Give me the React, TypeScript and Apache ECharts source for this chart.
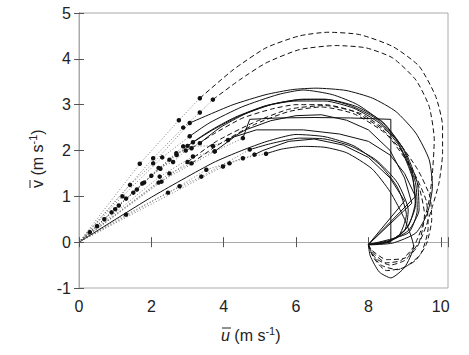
import React, { useEffect, useRef } from 'react';
import * as echarts from 'echarts';

type Pt = [number, number];

const origin: Pt = [0, 0];
const xTickValues = [0, 2, 4, 6, 8, 10];
const yTickValues = [-1, 0, 1, 2, 3, 4, 5];

// profile 1 (dashed, outer loop)
const p1Dots: Pt[] = [[1.68, 1.71], [2.76, 2.66], [3.34, 3.14]];
const p1Tail: Pt[] = [[3.34, 3.14], [4.26, 3.76], [5.17, 4.24], [6.09, 4.5], [6.88, 4.58], [7.75, 4.53], [8.67, 4.27], [9.4, 3.84], [9.86, 3.18], [10.05, 2.53], [10.05, 1.94], [9.95, 1.29], [9.77, 0.78], [9.59, 0.34], [9.35, -0.1], [9.0, -0.4], [8.6, -0.5], [8.2, -0.35], [8.0, -0.08]];
// profile 2 (dashed, inner loop)
const p2Dots: Pt[] = [[2.05, 1.83], [2.88, 2.5], [3.34, 2.83], [3.7, 3.11]];
const p2Tail: Pt[] = [[3.7, 3.11], [4.44, 3.54], [5.17, 3.91], [6.09, 4.2], [7.1, 4.29], [7.93, 4.24], [8.67, 4.02], [9.31, 3.54], [9.68, 2.96], [9.82, 2.23], [9.77, 1.51], [9.68, 0.92], [9.49, 0.34], [9.25, -0.1], [8.9, -0.4], [8.5, -0.45], [8.15, -0.25], [8.0, -0.08]];
// profile 3
const p3Dots: Pt[] = [[1.41, 1.25], [2.05, 1.72], [3.06, 2.6]];
const p3Tail: Pt[] = [[3.06, 2.6], [3.5, 2.75], [4.26, 3.0], [5.17, 3.22], [5.91, 3.33], [6.55, 3.36], [7.38, 3.31], [8.12, 3.14], [8.76, 2.85], [9.31, 2.38], [9.68, 1.8], [9.77, 1.22], [9.63, 0.63], [9.31, 0.2], [8.67, -0.02], [8.02, -0.06]];
// profile 4
const p4Dots: Pt[] = [[1.2, 1.0], [2.3, 1.85], [3.06, 2.31]];
const p4Tail: Pt[] = [[3.06, 2.31], [3.6, 2.6], [4.5, 2.95], [5.5, 3.22], [6.2, 3.32], [7.0, 3.22], [7.7, 3.0], [8.4, 2.6], [9.0, 2.0], [9.35, 1.3], [9.4, 0.7], [9.1, 0.25], [8.5, 0.0], [8.0, -0.05]];
// profiles 5-7 (dense band)
const p5Dots: Pt[] = [[0.3, 0.22], [0.7, 0.5], [1.1, 0.8], [1.5, 1.08], [2.0, 1.45], [2.5, 1.8], [3.0, 2.1]];
const p5Tail: Pt[] = [[3.0, 2.1], [3.6, 2.42], [4.3, 2.72], [5.17, 2.98], [6.0, 3.1], [6.8, 3.12], [7.5, 2.98], [8.2, 2.7], [8.8, 2.2], [9.2, 1.5], [9.3, 0.9], [9.1, 0.35], [8.6, 0.02], [8.0, -0.05]];
const p6Dots: Pt[] = [[0.5, 0.35], [0.9, 0.65], [1.3, 0.95], [1.75, 1.28], [2.25, 1.6], [2.7, 1.9], [3.15, 2.18]];
const p6Tail: Pt[] = [[3.15, 2.18], [3.7, 2.45], [4.4, 2.74], [5.2, 2.98], [6.0, 3.08], [6.8, 3.08], [7.6, 2.92], [8.3, 2.6], [8.85, 2.1], [9.22, 1.4], [9.3, 0.8], [9.05, 0.3], [8.55, 0.0], [8.0, -0.05]];
const p7Dots: Pt[] = [[1.0, 0.72], [1.6, 1.15], [2.2, 1.62], [2.6, 1.75], [2.95, 2.0], [3.34, 2.16]];
const p7Tail: Pt[] = [[3.34, 2.16], [3.9, 2.5], [4.6, 2.8], [5.4, 3.02], [6.2, 3.12], [7.0, 3.1], [7.7, 2.95], [8.4, 2.62], [8.95, 2.05], [9.3, 1.3], [9.35, 0.7], [9.1, 0.2], [8.0, -0.05]];
// profile 8 (dashed)
const p8Dots: Pt[] = [[1.8, 1.3], [2.69, 1.94], [3.11, 2.05]];
const p8Tail: Pt[] = [[3.11, 2.05], [3.7, 2.35], [4.5, 2.7], [5.3, 2.9], [6.0, 3.0], [6.8, 3.0], [7.6, 2.85], [8.4, 2.45], [9.0, 1.9], [9.4, 1.2], [9.55, 0.6], [9.4, 0.0], [9.0, -0.35], [8.5, -0.38], [8.1, -0.18], [8.0, -0.05]];
// profile 9
const p9Dots: Pt[] = [[2.88, 2.09], [3.7, 2.1], [4.12, 2.23]];
const p9Tail: Pt[] = [[4.12, 2.23], [4.6, 2.45], [5.3, 2.65], [6.0, 2.76], [6.7, 2.78], [7.4, 2.66], [8.0, 2.45], [8.6, 2.0], [9.0, 1.4], [9.2, 0.85], [8.0, -0.05]];
// profile 10
const p10Dots: Pt[] = [[2.2, 1.3], [3.75, 1.98], [4.53, 2.27]];
const p10Tail: Pt[] = [[4.53, 2.27], [4.72, 2.68], [5.5, 2.71], [6.5, 2.72], [7.5, 2.71], [8.62, 2.68], [8.62, 0.0], [8.0, -0.05]];
// profile 11
const p11Dots: Pt[] = [[2.23, 1.43], [3.15, 1.87], [3.75, 1.98]];
const p11Tail: Pt[] = [[3.75, 1.98], [4.3, 2.3], [4.9, 2.45], [6.2, 2.45], [7.2, 2.36], [8.0, 2.2], [8.6, 1.9], [9.0, 1.5], [9.3, 1.0], [8.0, -0.05]];
// profile 12
const p12Dots: Pt[] = [[1.3, 0.6], [2.46, 1.08], [3.38, 1.43], [4.72, 2.02]];
const p12Tail: Pt[] = [[4.72, 2.02], [5.3, 2.15], [6.1, 2.27], [6.8, 2.25], [7.5, 2.1], [8.2, 1.8], [8.8, 1.3], [9.1, 0.7], [9.0, 0.25], [8.5, 0.0], [8.0, -0.05]];
// profile 13
const p13Dots: Pt[] = [[2.78, 1.22], [3.52, 1.58], [4.53, 1.83], [5.17, 1.93]];
const p13Tail: Pt[] = [[5.17, 1.93], [5.6, 2.03], [6.2, 2.09], [6.8, 2.07], [7.4, 1.95], [8.1, 1.6], [8.6, 1.1], [9.0, 0.5], [9.25, -0.1], [9.0, -0.55], [8.62, -0.78], [8.3, -0.65], [8.05, -0.3], [8.0, -0.05]];
// profile 14
const p14Dots: Pt[] = [[3.98, 1.65], [4.16, 1.72], [4.85, 1.91]];
const p14Tail: Pt[] = [[4.85, 1.91], [5.08, 2.0], [5.8, 2.2], [6.5, 2.25], [7.3, 2.12], [8.0, 1.85], [8.6, 1.4], [9.0, 0.9], [8.0, -0.05]];
// profile 15 (solid from the origin)
const p15Dots: Pt[] = [];
const p15Tail: Pt[] = [[0, 0], [2.0, 0.98], [3.7, 1.73], [4.5, 2.0], [5.2, 2.2], [6.0, 2.35], [6.8, 2.3], [7.6, 2.1], [8.3, 1.7], [8.8, 1.2], [9.05, 0.6], [8.8, 0.1], [8.0, -0.05]];
// profile 16 (dashed)
const p16Dots: Pt[] = [[2.5, 1.5], [3.11, 1.72]];
const p16Tail: Pt[] = [[3.11, 1.72], [3.8, 2.1], [4.8, 2.55], [5.8, 2.85], [6.7, 2.95], [7.6, 2.8], [8.5, 2.35], [9.2, 1.6], [9.6, 0.9], [9.65, 0.3], [9.45, -0.25], [9.0, -0.55], [8.5, -0.62], [8.15, -0.35], [8.0, -0.05]];
// profile 17 (dashed)
const p17Dots: Pt[] = [[2.28, 1.32], [3.0, 1.75]];
const p17Tail: Pt[] = [[3.0, 1.75], [3.8, 2.2], [4.8, 2.6], [5.8, 2.9], [6.8, 2.98], [7.8, 2.8], [8.7, 2.3], [9.35, 1.6], [9.7, 1.0], [9.75, 0.5], [9.6, -0.05], [9.3, -0.4], [8.8, -0.6], [8.35, -0.5], [8.05, -0.2], [8.0, -0.05]];

const profiles: { dots: Pt[]; tail: Pt[]; dashed: boolean; smooth: boolean }[] = [
  { dots: p1Dots, tail: p1Tail, dashed: true, smooth: true },
  { dots: p2Dots, tail: p2Tail, dashed: true, smooth: true },
  { dots: p3Dots, tail: p3Tail, dashed: false, smooth: true },
  { dots: p4Dots, tail: p4Tail, dashed: false, smooth: true },
  { dots: p5Dots, tail: p5Tail, dashed: false, smooth: true },
  { dots: p6Dots, tail: p6Tail, dashed: false, smooth: true },
  { dots: p7Dots, tail: p7Tail, dashed: false, smooth: true },
  { dots: p8Dots, tail: p8Tail, dashed: true, smooth: true },
  { dots: p9Dots, tail: p9Tail, dashed: false, smooth: false },
  { dots: p10Dots, tail: p10Tail, dashed: false, smooth: false },
  { dots: p11Dots, tail: p11Tail, dashed: false, smooth: false },
  { dots: p12Dots, tail: p12Tail, dashed: false, smooth: true },
  { dots: p13Dots, tail: p13Tail, dashed: false, smooth: true },
  { dots: p14Dots, tail: p14Tail, dashed: false, smooth: false },
  { dots: p15Dots, tail: p15Tail, dashed: false, smooth: true },
  { dots: p16Dots, tail: p16Tail, dashed: true, smooth: true },
  { dots: p17Dots, tail: p17Tail, dashed: true, smooth: true },
];

const FONT = 'Liberation Sans, Arial, sans-serif';

export default function App() {
  const ref = useRef<HTMLDivElement>(null);
  useEffect(() => {
    if (!ref.current) return;
    const chart = echarts.init(ref.current, undefined, { renderer: 'svg' });
    const series: any[] = [];
    profiles.forEach((p) => {
      if (p.dots.length) {
        series.push({
          type: 'line',
          data: [{ value: origin, symbol: 'none' }, ...p.dots.map((d) => ({ value: d }))],
          symbol: 'circle',
          symbolSize: 4.5,
          showSymbol: true,
          itemStyle: { color: '#111' },
          lineStyle: { type: [1, 2], color: '#555', width: 0.8 },
          silent: true,
          z: 3,
        });
      }
      series.push({
        type: 'line',
        data: p.tail,
        symbol: 'none',
        smooth: p.smooth ? 0.2 : false,
        lineStyle: { type: p.dashed ? [5, 3] : 'solid', color: '#111', width: 1 },
        silent: true,
        z: 2,
      });
    });

    const fmt = (vals: number[]) => (v: number) => (vals.some((t) => Math.abs(t - v) < 1e-6) ? String(v) : '');
    const tickStyle = { inside: true, length: 5, lineStyle: { color: '#555', width: 1 } };

    chart.setOption({
      animation: false,
      grid: { left: 79, right: 21, top: 13, bottom: 67, show: true, borderColor: '#aaa', borderWidth: 1 },
      xAxis: [
        {
          type: 'value', min: 0, max: 10.2, interval: 2, position: 'bottom',
          axisLine: { show: true, lineStyle: { color: '#444', width: 1 } },
          axisTick: tickStyle,
          axisLabel: { formatter: fmt(xTickValues), fontSize: 16, color: '#222', margin: 10, fontFamily: FONT },
          splitLine: { show: false },
        },
        {
          type: 'value', min: 0, max: 10.2, interval: 2, position: 'top',
          axisLine: { show: true, lineStyle: { color: '#aaa', width: 1 } },
          axisTick: tickStyle,
          axisLabel: { show: false },
          splitLine: { show: false },
        },
      ],
      yAxis: [
        {
          type: 'value', min: -1, max: 5, interval: 1, position: 'left',
          axisLine: { show: true, lineStyle: { color: '#777', width: 1 } },
          axisTick: tickStyle,
          axisLabel: { formatter: fmt(yTickValues), fontSize: 16, color: '#222', margin: 8, fontFamily: FONT },
          splitLine: { show: false },
        },
        {
          type: 'value', min: -1, max: 5, interval: 1, position: 'right',
          axisLine: { show: true, lineStyle: { color: '#aaa', width: 1 } },
          axisTick: tickStyle,
          axisLabel: { show: false },
          splitLine: { show: false },
        },
      ],
      series,
      graphic: [
        {
          type: 'group', x: 221, y: 335,
          children: [
            {
              type: 'text', x: 0, y: 0,
              style: {
                text: '{u|u} (m s{s|-1})',
                fill: '#222',
                fontSize: 16, fontFamily: FONT,
                align: 'left', verticalAlign: 'middle',
                rich: {
                  u: { fontStyle: 'italic', fontSize: 16, fontFamily: FONT, lineHeight: 20 },
                  s: { fontSize: 11, fontFamily: FONT, verticalAlign: 'top', lineHeight: 20 },
                },
              },
            },
            { type: 'line', shape: { x1: 1, y1: -7, x2: 10, y2: -7 }, style: { stroke: '#222', lineWidth: 1 } },
          ],
        },
        {
          type: 'group', x: 37, y: 188, rotation: Math.PI / 2,
          children: [
            {
              type: 'text', x: 0, y: 0,
              style: {
                text: 'v (m s{s|-1})',
                fill: '#222',
                fontSize: 16, fontFamily: FONT,
                align: 'left', verticalAlign: 'middle',
                rich: {
                  s: { fontSize: 11, fontFamily: FONT, verticalAlign: 'top', lineHeight: 20 },
                },
              },
            },
            { type: 'line', shape: { x1: 0, y1: -7, x2: 8, y2: -7 }, style: { stroke: '#222', lineWidth: 1 } },
          ],
        },
      ],
    });
    return () => chart.dispose();
  }, []);
  return <div ref={ref} style={{ position: 'fixed', left: 0, top: 0, width: 469, height: 355, background: '#fff' }} />;
}
